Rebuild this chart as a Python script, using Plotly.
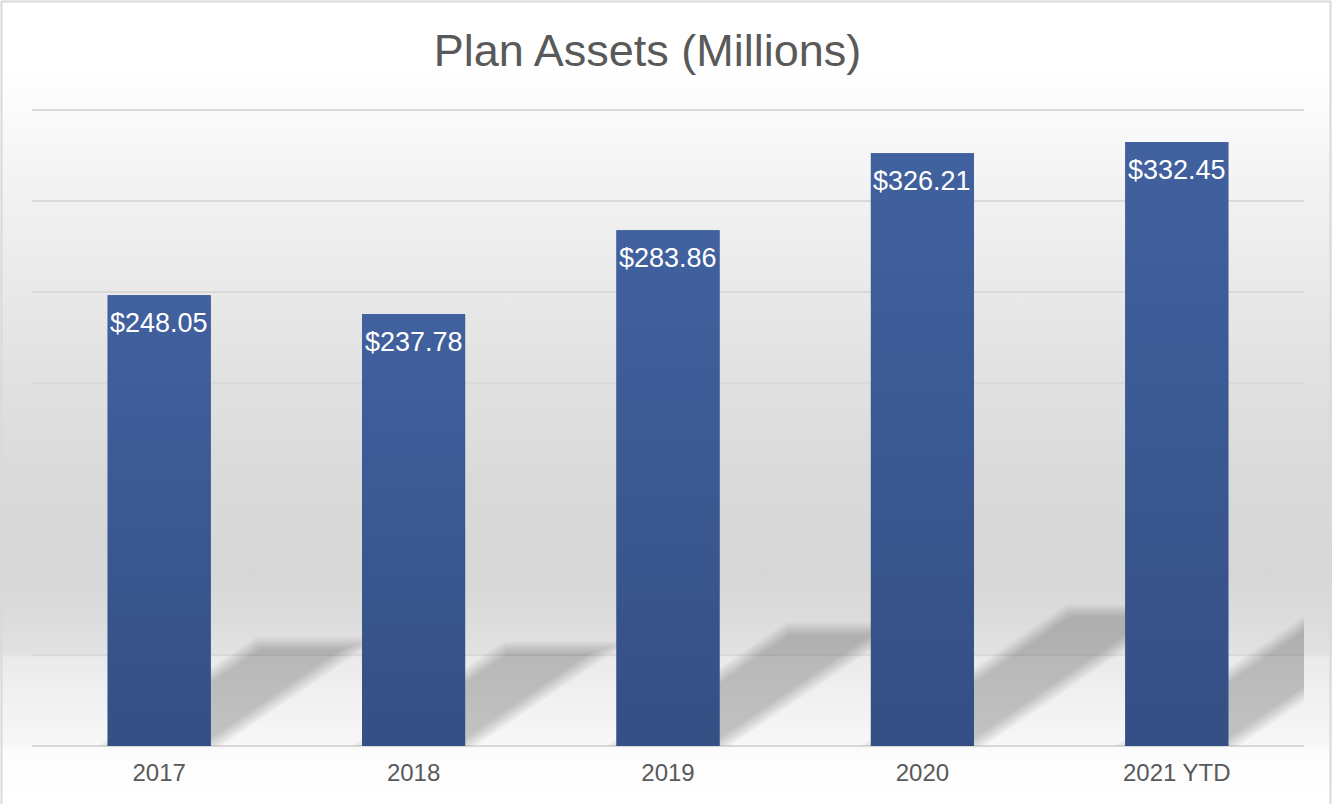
import base64
import math
import plotly.graph_objects as go

# Plan assets by year, in millions of dollars
years = ["2017", "2018", "2019", "2020", "2021 YTD"]
assets = [248.05, 237.78, 283.86, 326.21, 332.45]

# Figure geometry
W, H = 1332, 804
ML, MR, MT, MB = 32, 28, 106, 58
Y_TOP_GRID, Y_STEP = 350, 50
Y_MAX = 352.2                   # a little headroom so the top gridline is drawn
BAR_W = 0.405

PW, PH = W - ML - MR, H - MT - MB
X_PX = PW / len(years)          # pixels per category step
Y_PX = PH / Y_MAX               # pixels per million

BAR_TOP = "rgb(65,97,159)"
BAR_BOTTOM = "rgb(52,79,132)"
BAR_MID = "rgb(58,88,146)"
TEXT_GREY = "#595959"
GRID_GREY = "#d9d9d9"
FONT = "Liberation Sans, Arial, sans-serif"

# Shadow cast by each bar: rises a fraction of the bar height, slanting right
SHADOW_RISE = 0.228
SHADOW_SLANT = 1.46             # horizontal px per vertical px
SHADOW_DARK = 0.19              # total darkening at the shadow core
BLUR_INSETS = [-6, -4, -2, 0, 2, 4, 6]   # px, concentric layers soften the edges
layer_alpha = 1 - (1 - SHADOW_DARK) ** (1 / len(BLUR_INSETS))
side_factor = math.hypot(SHADOW_SLANT, 1.0)

xs = list(range(len(years)))

# Backdrop: soft vertical grey gradient plus a thin frame
stops = [
    (0.000, "#ffffff"), (0.080, "#ffffff"), (0.137, "#fbfbfb"),
    (0.250, "#f1f1f1"), (0.360, "#e9e9e9"), (0.473, "#e1e1e1"),
    (0.590, "#dadada"), (0.710, "#d7d7d7"), (0.770, "#dcdcdc"),
    (0.813, "#e2e2e2"), (0.818, "#eaeaea"), (0.870, "#f1f1f1"),
    (0.926, "#f7f7f7"), (0.934, "#fcfcfc"), (1.000, "#ffffff"),
]
stop_xml = "".join(f"<stop offset='{o}' stop-color='{c}'/>" for o, c in stops)
svg = (
    f"<svg xmlns='http://www.w3.org/2000/svg' width='{W}' height='{H}' "
    f"viewBox='0 0 {W} {H}' preserveAspectRatio='none'>"
    f"<defs><linearGradient id='g' x1='0' y1='0' x2='0' y2='1'>{stop_xml}"
    f"</linearGradient></defs>"
    f"<rect width='{W}' height='{H}' fill='url(#g)'/>"
    f"<rect x='1.5' y='1.5' width='{W - 3}' height='{H + 10}' fill='none' "
    f"stroke='#d9d9d9' stroke-width='2'/></svg>"
)
bg_uri = "data:image/svg+xml;base64," + base64.b64encode(svg.encode()).decode()

fig = go.Figure()

# Bars
fig.add_trace(go.Bar(
    x=xs, y=assets, width=BAR_W,
    marker=dict(color=BAR_MID, line=dict(width=0)),
    hovertemplate="%{customdata}: $%{y:.2f}M<extra></extra>",
    customdata=years,
))

# Vertical colour gradient laid over each bar
for x, v in zip(xs, assets):
    x0, x1 = x - BAR_W / 2, x + BAR_W / 2
    fig.add_trace(go.Scatter(
        x=[x0, x1, x1, x0, x0], y=[0, 0, v, v, 0],
        mode="lines", line=dict(width=0), fill="toself",
        fillgradient=dict(type="vertical",
                          colorscale=[[0, BAR_BOTTOM], [1, BAR_TOP]]),
        hoverinfo="skip", showlegend=False,
    ))

# Blurred perspective shadows behind the bars (built in pixel units, then
# converted back to axis units)
shapes = []
for x, v in zip(xs, assets):
    rise_px = SHADOW_RISE * v * Y_PX
    left_px = (x - BAR_W / 2) * X_PX
    right_px = (x + BAR_W / 2) * X_PX
    for d in BLUR_INSETS:
        y_lo, y_hi = d, rise_px - d
        if y_hi <= y_lo:
            continue
        l_off, r_off = left_px + side_factor * d, right_px - side_factor * d
        pts_px = [
            (l_off + SHADOW_SLANT * y_lo, y_lo),
            (r_off + SHADOW_SLANT * y_lo, y_lo),
            (r_off + SHADOW_SLANT * y_hi, y_hi),
            (l_off + SHADOW_SLANT * y_hi, y_hi),
        ]
        path = "M " + " L ".join(
            f"{px / X_PX:.5f},{py / Y_PX:.4f}" for px, py in pts_px) + " Z"
        shapes.append(dict(
            type="path", xref="x", yref="y", path=path,
            fillcolor=f"rgba(0,0,0,{layer_alpha:.4f})",
            line=dict(width=0), layer="between",
        ))

# Value labels inside the top of each bar
annotations = [
    dict(x=x, y=v, xref="x", yref="y", text=f"${v:.2f}",
         showarrow=False, yanchor="top", yshift=-11,
         font=dict(family=FONT, size=27, color="white"))
    for x, v in zip(xs, assets)
]

fig.update_layout(
    width=W, height=H, autosize=False,
    margin=dict(l=ML, r=MR, t=MT, b=MB, pad=0),
    paper_bgcolor="white", plot_bgcolor="rgba(0,0,0,0)",
    showlegend=False,
    font=dict(family=FONT, color=TEXT_GREY),
    title=dict(text="Plan Assets (Millions)", x=647.5 / W, xanchor="center",
               xref="container", y=1 - 50 / H, yanchor="middle", yref="container",
               font=dict(family=FONT, size=45, color=TEXT_GREY)),
    xaxis=dict(range=[-0.5, len(years) - 0.5], tickvals=xs, ticktext=years,
               showgrid=False, zeroline=False, showline=False, ticks="",
               ticklabelstandoff=10,
               tickfont=dict(family=FONT, size=24, color=TEXT_GREY),
               fixedrange=True),
    yaxis=dict(range=[0, Y_MAX], tickmode="array",
               tickvals=list(range(0, Y_TOP_GRID + 1, Y_STEP)),
               showticklabels=False,
               showgrid=True, gridcolor=GRID_GREY, gridwidth=1.5,
               zeroline=True, zerolinecolor=GRID_GREY, zerolinewidth=2,
               showline=False, ticks="", fixedrange=True),
    images=[dict(source=bg_uri, xref="paper", yref="paper",
                 x=-ML / PW, y=1 + MT / PH, sizex=W / PW, sizey=H / PH,
                 xanchor="left", yanchor="top", sizing="stretch", layer="below")],
    shapes=shapes,
    annotations=annotations,
)

fig.write_html("out.html")
